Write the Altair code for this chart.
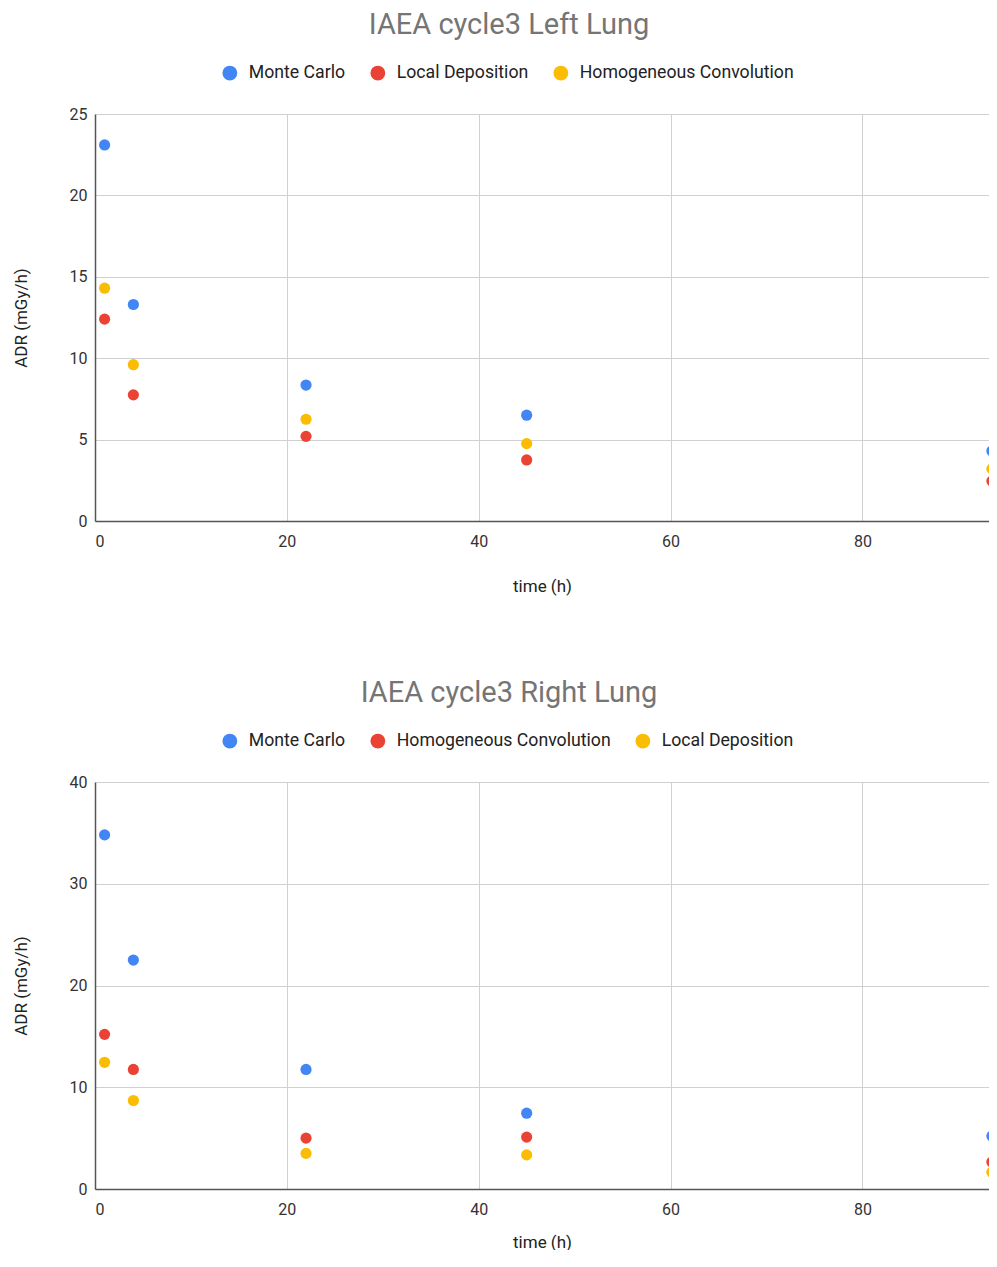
import altair as alt
import pandas as pd

time_h = [1.0, 4.0, 22.0, 45.0, 93.5]

left_mc = [23.1, 13.3, 8.35, 6.5, 4.3]
left_ld = [12.4, 7.75, 5.2, 3.75, 2.45]
left_hc = [14.3, 9.6, 6.25, 4.75, 3.2]

right_mc = [34.8, 22.5, 11.75, 7.45, 5.2]
right_hc = [15.2, 11.75, 5.0, 5.1, 2.65]
right_ld = [12.45, 8.7, 3.5, 3.35, 1.65]

left_order = ["Monte Carlo", "Local Deposition", "Homogeneous Convolution"]
right_order = ["Monte Carlo", "Homogeneous Convolution", "Local Deposition"]
palette = ["#4285F4", "#EA4335", "#FBBC04"]

FONT = "Roboto"


def make_df(series):
    rows = []
    for name, vals in series:
        for t, v in zip(time_h, vals):
            rows.append({"time": t, "ADR": v, "series": name})
    return pd.DataFrame(rows)


df_left = make_df([("Monte Carlo", left_mc), ("Local Deposition", left_ld),
                   ("Homogeneous Convolution", left_hc)])
df_right = make_df([("Monte Carlo", right_mc), ("Homogeneous Convolution", right_hc),
                    ("Local Deposition", right_ld)])

W = 894
XMAX = 93.2


def panel(df, title, order, ymax, ystep, h, xtitle_pad):
    return alt.Chart(df).mark_circle(size=125, opacity=1, clip=True).encode(
        x=alt.X("time:Q", title="time (h)",
                scale=alt.Scale(domain=[0, XMAX], nice=False, zero=True),
                axis=alt.Axis(values=[0, 20, 40, 60, 80], titlePadding=xtitle_pad)),
        y=alt.Y("ADR:Q", title="ADR (mGy/h)",
                scale=alt.Scale(domain=[0, ymax], nice=False),
                axis=alt.Axis(values=list(range(0, ymax + 1, ystep)), titlePadding=39)),
        color=alt.Color("series:N", sort=order,
                        scale=alt.Scale(domain=order, range=palette),
                        legend=alt.Legend(title=None, orient="none", direction="horizontal",
                                          legendX=126, legendY=-50,
                                          symbolType="circle", symbolSize=220,
                                          labelFontSize=17.7, labelFont=FONT, labelLimit=400,
                                          labelColor="#222222", labelOffset=10,
                                          columnPadding=23)),
        order=alt.Order("series:N"),
    ).properties(
        width=W, height=h,
        title=alt.TitleParams(title, fontSize=29, font=FONT, fontWeight="normal",
                              color="#757575", anchor="middle", dx=-33, offset=24),
    )


top = panel(df_left, "IAEA cycle3 Left Lung", left_order, 25, 5, 407, 29)
bottom = panel(df_right, "IAEA cycle3 Right Lung", right_order, 40, 10, 407, 17)

chart = alt.vconcat(top, bottom, spacing=85).resolve_scale(color="independent").resolve_legend(
    color="independent"
).properties(
    padding={"top": 3, "left": 4, "right": 0, "bottom": 0}
).configure_view(stroke=None).configure_axis(
    labelFont=FONT, titleFont=FONT, labelFontSize=16, titleFontSize=17,
    labelColor="#333333", titleColor="#222222", titleFontWeight="normal",
    gridColor="#D0D0D0", domainColor="#555555", domainWidth=1.5,
    ticks=False, labelPadding=8,
).configure_axisX(labelPadding=12)

chart.save("out.html", embed_options={"renderer": "svg", "actions": False})
